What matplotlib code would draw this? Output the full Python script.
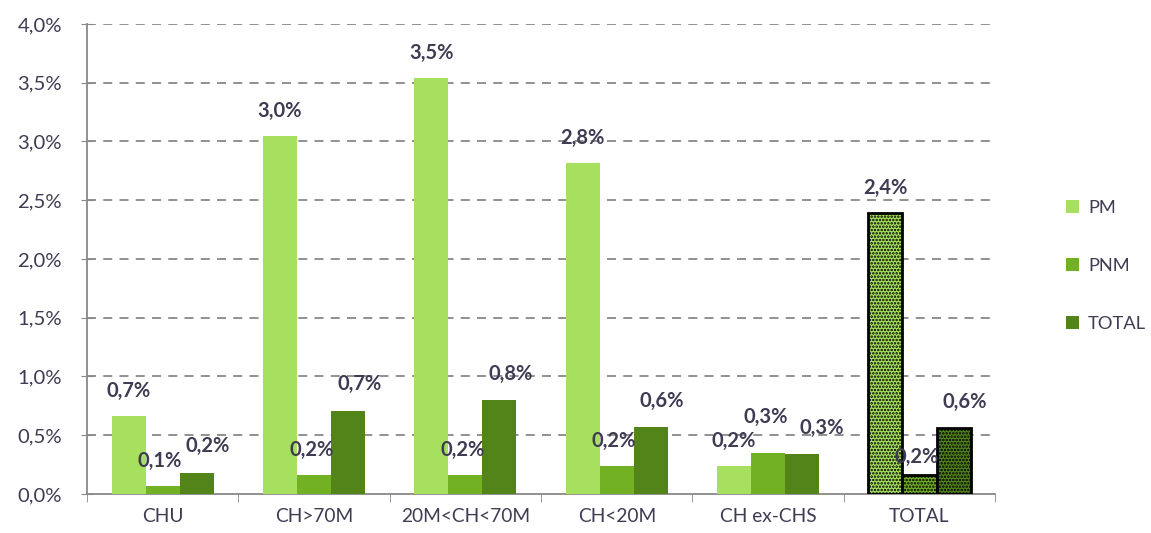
import numpy as np
import matplotlib
matplotlib.use("Agg")
import matplotlib.pyplot as plt
from matplotlib.ticker import FuncFormatter

plt.rcParams['font.family'] = ['Lato', 'DejaVu Sans']
plt.rcParams['hatch.linewidth'] = 1.2

# data (percent)
categories = ['CHU', 'CH>70M', '20M<CH<70M', 'CH<20M', 'CH ex-CHS', 'TOTAL']
series = ['PM', 'PNM', 'TOTAL']
pm = [0.66, 3.05, 3.54, 2.82, 0.24, 2.39]
pnm = [0.07, 0.16, 0.16, 0.24, 0.35, 0.16]
total = [0.18, 0.71, 0.80, 0.57, 0.34, 0.56]
colors = ['#A6E05E', '#72B024', '#528419']
text_col = '#3F3B52'

fig = plt.figure(figsize=(11.51, 5.33), dpi=100)
ax = fig.add_axes([0.0756, 0.0732, 0.789, 0.882])

x = np.arange(len(categories))
w = 0.225
values = [pm, pnm, total]
# per-series label shifts (points): x, y
shifts = [(0, 18), (-2, 18), (8, 19)]
# a few labels were nudged in the original to avoid collisions
nudges = {(1, 4): (0, 8), (2, 4): (6, 0), (1, 5): (0, -5)}

for i, (name, vals, col) in enumerate(zip(series, values, colors)):
    pos = x + (i - 1) * w
    ax.bar(pos[:-1], vals[:-1], w, color=col, label=name, zorder=3)
    # last group (TOTAL) drawn with dots pattern and black outline
    ax.bar(pos[-1], vals[-1], w, color=col, edgecolor='black', linewidth=2,
           hatch='.....', zorder=3)
    for j, (xi, v) in enumerate(zip(pos, vals)):
        dx, dy = nudges.get((i, j), (0, 0))
        ax.annotate(f'{v:.1f}%'.replace('.', ','), (xi, v),
                    xytext=(shifts[i][0] + dx, shifts[i][1] + dy),
                    textcoords='offset points',
                    ha='center', va='center', fontsize=14.5, fontweight='bold',
                    color=text_col, zorder=4)

ax.set_xlim(-0.5, len(categories) - 0.5)
ax.set_ylim(0, 4.0)
ax.set_yticks(np.arange(0, 4.01, 0.5))
ax.yaxis.set_major_formatter(FuncFormatter(lambda v, p: f'{v:.1f}%'.replace('.', ',')))
ax.set_xticks(x)
ax.set_xticklabels(categories)
ax.set_xticks(np.arange(-0.5, len(categories)), minor=True)
ax.tick_params(axis='x', which='major', length=0, labelsize=13.8, labelcolor=text_col, pad=10)
ax.tick_params(axis='x', which='minor', length=6, color='#888888', direction='out')
ax.tick_params(axis='y', labelsize=14.6, labelcolor=text_col, length=8,
               direction='inout', color='#888888', pad=14)

ax.yaxis.grid(True, linestyle=(0, (5, 4)), color='#888888', linewidth=1.3, zorder=0)
for g in ax.get_ygridlines()[:1]:
    g.set_visible(False)
for s in ['top', 'right']:
    ax.spines[s].set_visible(False)
for s in ['left', 'bottom']:
    ax.spines[s].set_color('#888888')
    ax.spines[s].set_linewidth(1.3)

leg = ax.legend(loc='center left', bbox_to_anchor=(1.06, 0.485), frameon=False,
                fontsize=13.2, labelspacing=2.3, handlelength=0.7, handleheight=0.7,
                handletextpad=0.5)
for t in leg.get_texts():
    t.set_color(text_col)

fig.savefig('out.png', dpi=100)
